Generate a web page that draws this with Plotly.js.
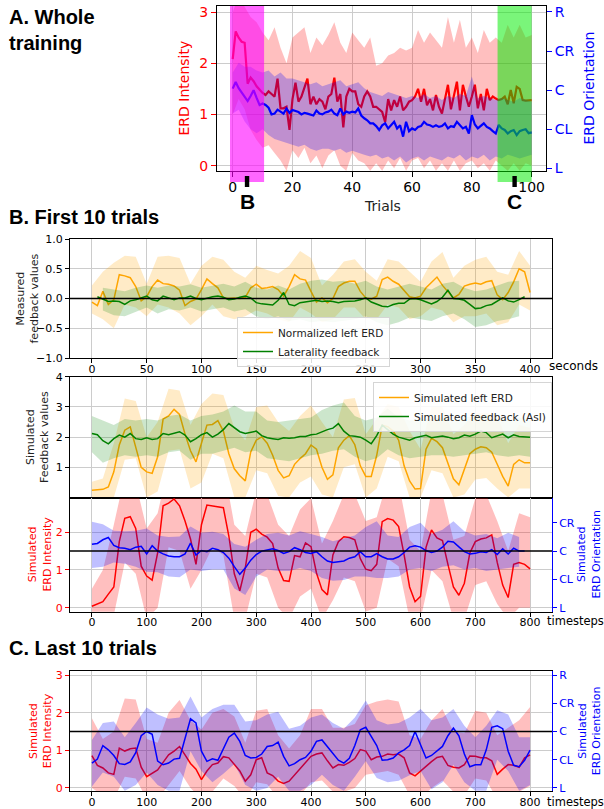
<!DOCTYPE html>
<html>
<head>
<meta charset="utf-8">
<script src="https://cdn.plot.ly/plotly-3.0.1.min.js"></script>
<style>html,body{margin:0;padding:0;background:#fff;}#chart{width:604px;height:809px;}</style>
</head>
<body>
<div id="chart"></div>
<script>
// ---------------- DATA ----------------
// Panel A: whole training (trials 0..100)
const trialsStep = 1, bandStepA = 2;
const redA = [2.08,2.62,2.50,2.42,2.40,1.60,1.72,1.65,1.55,1.48,
 1.42,1.38,1.45,1.40,1.35,1.70,1.12,1.12,1.15,0.70,
 1.30,1.62,1.25,1.35,1.55,1.70,1.20,1.35,1.20,1.30,
 1.25,1.10,1.35,1.40,1.72,1.25,1.40,0.75,1.35,1.50,
 1.45,1.45,1.20,1.15,1.35,1.45,1.35,1.15,1.15,1.10,
 1.05,0.85,1.30,1.08,1.28,1.15,1.35,1.08,1.15,1.25,
 1.28,1.35,1.50,1.25,1.50,1.18,1.30,1.08,1.38,1.15,
 1.02,1.30,1.58,1.10,1.35,1.64,1.08,1.58,1.35,1.15,
 1.35,1.58,1.12,1.40,1.08,1.50,1.28,1.35,1.31,1.28,
 1.30,1.35,1.20,1.48,1.22,1.54,1.50,1.28,1.27,1.28,
 1.28];
const blueA = [2.04,2.21,2.05,1.95,1.85,1.72,1.85,2.00,1.80,1.62,
 1.66,1.62,1.55,1.38,1.40,1.50,1.45,1.40,1.53,1.42,
 1.49,1.47,1.44,1.38,1.42,1.40,1.38,1.35,1.48,1.40,
 1.38,1.43,1.45,1.50,1.40,1.36,1.53,1.38,1.45,1.42,
 1.45,1.43,1.53,1.35,1.28,1.23,1.15,1.15,1.08,0.98,
 1.10,1.15,1.02,1.10,1.19,1.02,1.10,0.81,1.19,0.95,
 1.02,0.98,1.06,1.08,1.19,1.12,1.10,1.06,1.10,1.06,
 1.08,1.15,1.02,1.08,1.06,1.19,1.10,1.02,1.06,0.89,
 1.36,1.12,1.02,1.08,1.15,1.06,1.02,0.95,0.89,1.11,
 1.02,0.98,0.89,0.95,0.98,0.85,0.95,0.98,1.00,0.90,
 0.92];
const redUpA = [3.00,3.30,3.10,2.90,2.80,2.60,2.45,2.70,2.30,2.00,
 2.50,2.60,2.70,2.20,2.50,2.35,2.55,2.80,2.40,2.20,
 2.60,2.45,2.30,2.50,1.95,2.00,2.15,2.20,2.30,2.25,
 2.30,2.65,2.40,2.60,2.45,2.30,2.90,2.40,2.85,2.30,
 2.50,2.20,2.65,2.40,2.50,2.40,2.75,2.50,2.75,2.50,
 2.55];
const redLoA = [1.00,1.30,1.10,0.70,0.50,0.35,0.40,0.25,0.10,-0.10,
 0.30,0.15,0.35,0.05,0.20,-0.05,0.20,0.30,0.00,-0.10,
 0.25,0.10,0.05,-0.10,0.05,-0.10,0.10,-0.05,0.15,-0.10,
 0.10,0.15,-0.05,0.10,-0.10,0.05,-0.10,0.10,-0.10,0.05,
 0.10,-0.05,0.05,-0.10,0.10,0.00,-0.10,0.05,-0.10,0.05,
 0.00];
const blueUpA = [2.45,2.70,2.60,2.60,2.50,2.45,2.50,2.35,2.45,2.30,
 2.30,2.25,2.20,2.15,2.20,2.10,2.15,2.20,2.25,2.10,
 2.15,2.20,2.05,1.95,1.90,1.85,1.95,1.90,1.85,1.80,
 1.85,1.80,1.90,1.80,1.85,1.75,1.85,1.80,1.90,1.85,
 2.35,1.80,1.85,1.80,1.75,1.80,1.75,1.70,1.80,1.75,
 1.70];
const blueLoA = [1.40,1.50,1.20,1.00,0.90,1.00,0.85,0.75,0.70,0.65,
 0.60,0.55,0.60,0.50,0.45,0.50,0.50,0.45,0.50,0.40,
 0.45,0.40,0.35,0.30,0.35,0.25,0.30,0.20,0.30,0.15,
 0.25,0.30,0.20,0.30,0.25,0.20,0.30,0.25,0.35,0.20,
 0.30,0.25,0.35,0.20,0.30,0.25,0.35,0.30,0.25,0.30,
 0.35];
const spanFirst = [-0.9, 10.5];
const spanLast = [88.6, 100];
const markFirst = 4.8, markLast = 94.3;
const orientTicks = ['L','CL','C','CR','R'];

// Panel B top: measured (seconds 0..400, step 5; bands step 10)
const orangeTop = [-0.06,-0.12,0.12,-0.10,-0.02,0.40,0.38,0.35,0.20,-0.04,
 0.03,0.20,0.31,0.25,0.24,0.21,0.14,-0.12,-0.05,-0.01,
 0.15,0.33,0.25,0.18,0.01,0.00,0.01,0.00,0.02,0.18,
 0.24,0.17,0.18,0.20,0.15,0.04,0.20,0.40,0.33,0.31,
 0.12,-0.06,0.01,-0.07,0.00,0.20,0.26,0.29,0.29,0.12,
 0.01,-0.01,0.04,0.32,0.36,0.29,0.24,0.14,0.03,0.01,
 0.04,0.18,0.27,0.36,0.22,0.12,0.01,0.07,0.21,0.24,
 0.26,0.24,0.28,0.30,0.06,-0.02,0.10,0.28,0.50,0.45,
 0.10];
const greenTop = [null,0.03,-0.01,-0.05,-0.04,-0.05,-0.10,-0.04,-0.02,0.01,
 0.04,-0.02,-0.04,0.04,0.01,-0.02,0.01,0.01,0.04,0.00,
 -0.02,0.01,0.03,0.04,0.02,-0.02,-0.01,0.02,0.04,0.01,
 -0.07,-0.09,-0.10,-0.11,-0.03,0.10,-0.10,-0.12,-0.07,-0.06,
 -0.05,-0.03,-0.05,-0.04,-0.05,-0.07,-0.05,-0.05,-0.04,-0.02,
 0.01,-0.06,-0.10,-0.13,-0.14,-0.10,-0.08,-0.08,-0.01,0.00,
 -0.02,-0.05,-0.09,-0.05,0.02,0.14,0.00,-0.01,-0.03,-0.10,
 -0.17,-0.16,-0.12,-0.10,-0.04,0.01,-0.04,-0.06,-0.02,0.03,
 null];
const orangeTopUp = [0.22,0.45,0.60,0.72,0.70,0.25,0.70,0.72,0.68,0.25,
 0.55,0.70,0.65,0.45,0.35,0.55,0.48,0.42,0.55,0.80,
 0.68,0.22,0.40,0.62,0.66,0.45,0.30,0.66,0.62,0.45,
 0.28,0.62,0.78,0.35,0.55,0.65,0.70,0.45,0.40,0.80,
 0.55];
const orangeTopLo = [-0.25,-0.35,-0.50,-0.10,-0.15,-0.30,-0.10,-0.15,-0.25,-0.45,
 -0.30,-0.10,-0.30,-0.35,-0.30,-0.20,-0.25,-0.35,-0.40,-0.15,
 -0.25,-0.40,-0.35,-0.15,-0.15,-0.35,-0.35,-0.10,-0.15,-0.35,
 -0.30,-0.15,-0.20,-0.40,-0.30,-0.30,-0.25,-0.45,-0.40,-0.10,
 -0.20];
const greenTopUp = [0.18,0.15,0.12,0.18,0.22,0.18,0.22,0.20,0.24,0.18,
 0.22,0.25,0.20,0.28,0.18,0.15,0.22,0.15,0.25,0.30,
 0.32,0.28,0.30,0.25,0.30,0.20,0.15,0.20,0.25,0.20,
 0.15,0.25,0.28,0.18,0.12,0.15,0.22,0.28,0.30];
const greenTopLo = [-0.20,-0.28,-0.30,-0.22,-0.15,-0.25,-0.18,-0.20,-0.15,-0.22,
 -0.18,-0.15,-0.22,-0.18,-0.30,-0.35,-0.30,-0.38,-0.35,-0.40,
 -0.38,-0.40,-0.38,-0.35,-0.30,-0.40,-0.45,-0.40,-0.32,-0.35,
 -0.38,-0.30,-0.25,-0.35,-0.48,-0.45,-0.38,-0.35,-0.30];

// Panel B middle: simulated feedback (seconds 0..400)
const orangeMid = [0.24,0.25,0.27,0.35,0.85,1.74,2.23,2.34,1.70,1.00,
 0.85,0.80,1.35,2.60,2.70,2.92,2.75,2.10,1.55,1.18,
 1.80,2.40,2.42,2.55,2.20,1.45,0.95,0.72,0.55,1.51,
 1.90,2.01,1.80,1.40,0.90,0.65,0.72,1.10,1.29,1.45,
 1.74,1.60,1.00,0.60,0.75,1.65,1.90,2.05,1.75,1.05,
 0.70,0.70,1.40,2.40,2.35,2.20,1.90,1.05,0.55,0.28,
 0.30,1.60,1.96,1.85,1.65,1.15,0.62,0.42,0.90,1.45,
 1.60,1.68,1.65,1.50,1.10,0.70,0.38,1.10,1.25,1.15,
 1.15];
const greenMid = [2.12,2.08,1.88,1.78,1.95,2.07,2.00,2.12,1.95,1.92,
 1.98,1.92,1.95,2.12,2.08,2.12,2.18,2.07,1.85,1.95,
 2.08,2.15,2.00,2.10,2.25,2.45,2.30,2.18,2.12,2.15,
 2.20,2.05,1.98,1.95,1.92,1.98,1.96,1.98,2.02,2.02,
 2.08,2.10,2.18,2.25,2.30,2.45,2.20,2.05,2.03,2.00,
 1.90,1.78,2.05,2.40,2.25,2.10,2.00,1.95,1.90,1.98,
 2.03,2.06,1.98,2.00,2.04,2.00,1.95,1.98,2.07,2.03,
 2.10,2.20,2.15,1.98,2.05,2.10,1.98,2.08,2.02,2.02,
 2.00];
const orangeMidUp = [0.52,0.63,1.80,3.28,3.20,2.00,2.50,3.60,3.55,2.40,
 3.10,3.45,3.40,2.30,1.90,3.00,3.05,2.50,2.20,2.70,
 3.05,2.50,2.00,3.25,3.30,2.10,2.60,3.10,3.00,2.20,
 1.60,3.00,3.00,2.10,2.40,2.80,2.80,2.70,1.80,2.40,
 2.30];
const orangeMidLo = [0.00,0.00,0.00,1.25,1.30,0.00,0.20,1.55,1.60,0.30,
 0.50,1.45,1.30,0.00,0.00,0.90,0.80,0.05,0.00,0.50,
 0.70,0.10,0.00,1.00,1.10,0.00,0.30,1.35,1.20,0.00,
 0.00,0.90,0.80,0.00,0.10,0.60,0.65,0.30,0.00,0.30,
 0.30];
const greenMidUp = [2.70,2.55,2.40,2.60,2.55,2.60,2.55,2.70,2.75,2.55,
 2.70,2.75,2.85,3.05,2.85,2.85,2.55,2.50,2.55,2.60,
 2.65,2.90,3.05,3.15,2.70,2.55,2.65,2.95,2.65,2.55,
 2.60,2.60,2.65,2.55,2.65,2.70,2.75,2.60,2.55,2.65,
 2.55];
const greenMidLo = [1.50,1.15,1.30,1.40,1.35,1.40,1.35,1.50,1.55,1.25,
 1.45,1.45,1.55,1.65,1.50,1.55,1.30,1.25,1.20,1.30,
 1.40,1.45,1.55,1.60,1.35,1.20,1.30,1.60,1.40,1.30,
 1.35,1.40,1.40,1.35,1.40,1.45,1.50,1.40,1.35,1.40,
 1.35];

// Panel B bottom: simulated ERD (timesteps 0..800, step 10; bands step 20)
const redBot = [0.04,0.09,0.16,0.36,0.55,1.75,2.37,2.41,2.10,1.10,
 0.84,0.73,1.45,2.70,2.77,2.88,2.70,2.30,1.82,1.15,
 2.20,2.72,2.70,2.68,2.65,1.90,0.90,0.45,1.05,2.00,
 2.08,1.95,1.87,1.70,1.05,0.72,0.70,1.38,1.35,1.72,
 1.62,0.92,0.48,0.34,1.40,1.75,1.88,1.86,1.80,1.30,
 1.02,0.98,1.15,2.28,2.36,2.32,2.15,1.40,0.55,0.16,
 0.30,1.60,2.06,1.85,1.78,1.15,0.55,0.33,0.65,1.45,
 1.75,1.82,1.85,1.93,1.20,0.60,0.27,1.15,1.20,1.15,
 1.03];
const blueBot = [2.24,2.27,2.40,2.48,2.20,2.12,2.10,2.05,2.14,2.17,
 1.90,2.19,2.00,1.90,1.83,1.80,1.80,1.90,2.28,1.86,
 2.02,1.98,2.10,2.05,1.95,1.75,1.45,1.18,1.40,1.68,
 1.88,2.00,2.04,2.08,2.02,1.92,1.98,2.12,2.05,1.95,
 1.92,1.98,1.80,1.65,1.60,1.63,1.65,1.75,1.80,1.98,
 1.80,1.80,1.91,1.80,1.72,1.72,1.80,1.95,2.14,2.19,
 2.14,2.02,1.95,2.00,2.14,2.35,2.32,2.15,1.98,1.90,
 1.92,1.98,1.95,2.05,1.88,2.08,1.90,2.10,2.00,2.00,
 null];
const redBotUp = [0.50,1.00,2.20,3.50,3.30,2.10,2.50,3.80,3.80,3.00,
 3.20,3.80,3.80,2.20,1.90,3.10,3.00,2.20,1.90,2.60,
 2.90,1.70,2.30,3.00,3.00,2.30,2.40,3.40,3.30,1.80,
 1.50,3.10,3.00,1.80,1.90,2.90,3.00,2.30,1.50,2.50,
 2.40];
const redBotLo = [-0.30,-0.30,-0.20,1.20,0.90,-0.30,0.00,1.60,1.50,0.50,
 1.00,1.60,1.40,-0.30,-0.30,0.90,0.80,0.00,-0.30,0.30,
 0.50,-0.30,0.20,0.80,0.70,-0.10,0.00,1.30,1.10,-0.30,
 -0.30,1.00,0.70,-0.30,-0.30,0.60,0.70,0.10,-0.30,0.00,
 0.00];
const blueBotUp = [3.04,2.95,2.72,2.70,2.72,2.80,2.55,2.50,2.52,2.87,
 2.65,2.68,2.60,2.25,2.15,2.40,2.60,2.65,2.55,2.70,
 2.60,2.50,2.35,2.45,2.55,2.85,3.05,2.55,2.50,2.85,
 3.00,2.60,2.75,3.05,2.70,2.55,2.60,2.45,2.65,2.50];
const blueBotLo = [1.40,1.45,1.60,1.55,1.45,1.27,1.25,1.10,1.08,1.35,
 1.30,1.35,1.35,0.68,0.45,1.10,1.35,1.30,1.30,1.40,
 1.30,1.05,0.95,0.98,1.10,1.10,1.05,1.05,1.10,1.35,
 1.40,1.30,1.45,1.50,1.35,1.40,1.30,1.35,1.40,1.45];

// Panel C: last 10 trials (timesteps 0..800)
const redC = [0.86,0.60,0.53,0.40,0.36,1.06,0.98,1.04,1.06,0.55,
 0.30,0.40,0.48,0.68,0.88,0.98,1.10,0.88,0.65,0.50,
 0.22,0.45,0.62,0.66,0.83,0.80,0.62,0.45,0.18,0.35,
 0.75,0.80,0.40,0.33,0.18,0.12,0.18,0.35,0.50,0.70,
 0.84,0.90,0.93,0.72,0.53,0.62,0.60,0.68,0.78,1.02,
 0.98,0.75,0.82,0.84,0.90,0.88,0.90,0.80,0.40,0.32,
 0.45,0.58,0.70,0.81,0.84,0.60,0.55,0.53,0.62,0.85,
 0.84,0.80,0.80,0.72,0.36,0.50,0.62,0.60,0.55,0.80,
 0.88];
const blueC = [0.88,1.02,1.50,1.35,1.15,0.86,0.83,0.92,1.25,1.85,
 2.00,1.90,0.95,0.82,0.88,1.02,1.05,1.80,2.45,2.30,
 1.30,0.94,1.03,0.98,1.40,1.80,1.94,1.65,1.15,1.06,
 1.08,1.20,1.47,1.50,1.62,1.12,0.78,0.86,1.00,1.08,
 1.30,1.65,1.70,1.45,1.24,0.98,0.88,1.05,1.50,2.06,
 2.15,1.80,1.50,0.98,1.00,1.06,1.24,1.35,1.50,2.00,
 1.50,1.06,1.15,1.30,1.47,1.85,2.12,1.85,1.20,0.75,
 0.82,0.82,1.35,2.15,2.20,2.10,1.30,0.80,0.75,0.98,
 1.34];
const redCUp = [1.85,1.30,1.50,2.38,2.35,1.30,1.20,2.00,2.34,1.80,
 1.55,2.00,2.10,1.90,1.20,2.05,2.10,1.40,1.05,1.40,
 2.10,2.10,1.60,1.60,1.70,2.20,2.30,2.35,2.30,1.40,
 1.30,1.80,2.10,1.50,1.45,2.05,2.00,1.40,1.60,1.80,
 2.15];
const redCLo = [0.00,-0.20,-0.30,0.30,0.25,-0.30,-0.30,0.10,0.45,0.00,
 -0.30,-0.10,0.25,0.05,-0.30,0.15,0.10,-0.30,-0.30,-0.20,
 0.15,0.20,-0.10,-0.10,0.00,0.35,0.40,0.45,0.35,-0.20,
 -0.30,0.00,0.20,-0.10,-0.20,0.25,0.20,-0.30,-0.10,-0.10,
 0.05];
const blueCUp = [1.70,2.30,2.35,1.80,2.30,2.85,2.60,2.45,2.50,3.24,
 2.50,2.80,2.95,2.95,2.35,2.40,2.60,2.70,2.10,2.20,
 2.50,2.60,2.30,2.10,2.50,3.10,2.40,2.25,2.30,2.50,
 2.80,2.40,2.50,2.80,2.20,1.80,2.20,2.75,2.60,1.80,
 1.80];
const blueCLo = [0.05,0.55,0.40,-0.10,0.10,0.55,0.10,-0.10,-0.10,1.30,
 0.60,0.20,0.50,0.85,0.10,-0.10,0.00,0.40,-0.10,-0.10,
 0.10,0.47,0.10,-0.10,0.40,0.95,0.35,0.20,0.25,0.45,
 0.60,-0.05,0.20,0.82,0.20,-0.10,-0.10,1.00,0.60,-0.10,
 0.10];
const zeroLevel = 0, centerLevel = 1.5;

// ---------------- HELPERS ----------------
function seq(start, step, n){ const a=[]; for(let i=0;i<n;i++) a.push(start+i*step); return a; }
const W = 604, H = 809;
const PX = x => x / W, PY = y => 1 - y / H;
const FONT = 'DejaVu Sans, Verdana, sans-serif';
const TFONT = 'Liberation Sans, Arial, sans-serif';
const RED = '#ff0000', BLUE = '#0000ff', ORANGE = '#ffa500', GREEN = '#008000';

function line(x, y, xa, ya, color, width, name, legend){
  const t = {x, y, xaxis:xa, yaxis:ya, mode:'lines', line:{color, width}, hoverinfo:'skip', showlegend:false};
  if (name){ t.name = name; t.showlegend = true; t.legend = legend; }
  return t;
}
function band(x, lo, hi, xa, ya, fill){
  return {x: x.concat(x.slice().reverse()), y: hi.concat(lo.slice().reverse()),
    xaxis:xa, yaxis:ya, mode:'lines', fill:'toself', fillcolor:fill, line:{width:0, color:fill},
    hoverinfo:'skip', showlegend:false};
}

const xTrials = seq(0, trialsStep, redA.length);
const xTrialsBand = seq(0, bandStepA, redUpA.length);
const xSec = seq(0, 5, orangeTop.length);
const xSecBand = seq(0, 10, orangeTopUp.length);
const xSecBandG = seq(10, 10, greenTopUp.length);
const xTs = seq(0, 10, redBot.length);
const xTsBand = seq(0, 20, redBotUp.length);
const xTsBandB = seq(0, 20, blueBotUp.length);

const FR = 'rgba(255,0,0,0.25)', FB = 'rgba(0,0,255,0.25)';
const FO = 'rgba(255,165,0,0.22)', FG = 'rgba(0,128,0,0.2)';

const data = [
  // A
  band(xTrialsBand, redLoA, redUpA, 'x', 'y', FR),
  line(xTrials, redA, 'x', 'y', RED, 2.2),
  band(xTrialsBand, blueLoA, blueUpA, 'x', 'y2', FB),
  line(xTrials, blueA, 'x', 'y2', BLUE, 2.2),
  // B top
  band(xSecBand, orangeTopLo, orangeTopUp, 'x2', 'y3', FO),
  line(xSec, orangeTop, 'x2', 'y3', ORANGE, 1.5, 'Normalized left ERD', 'legend'),
  band(xSecBandG, greenTopLo, greenTopUp, 'x2', 'y3', FG),
  line(xSec, greenTop, 'x2', 'y3', GREEN, 1.5, 'Laterality feedback', 'legend'),
  // B middle
  band(xSecBand, orangeMidLo, orangeMidUp, 'x3', 'y4', FO),
  line(xSec, orangeMid, 'x3', 'y4', ORANGE, 1.5, 'Simulated left ERD', 'legend2'),
  band(xSecBand, greenMidLo, greenMidUp, 'x3', 'y4', FG),
  line(xSec, greenMid, 'x3', 'y4', GREEN, 1.5, 'Simulated feedback (AsI)', 'legend2'),
  // B bottom
  band(xTsBand, redBotLo, redBotUp, 'x4', 'y5', FR),
  line(xTs, redBot, 'x4', 'y5', RED, 1.5),
  band(xTsBandB, blueBotLo, blueBotUp, 'x4', 'y6', FB),
  line(xTs, blueBot, 'x4', 'y6', BLUE, 1.5),
  // C
  band(xTsBand, redCLo, redCUp, 'x5', 'y7', FR),
  line(xTs, redC, 'x5', 'y7', RED, 1.5),
  band(xTsBand, blueCLo, blueCUp, 'x5', 'y8', FB),
  line(xTs, blueC, 'x5', 'y8', BLUE, 1.5)
];

// ---------------- AXES ----------------
function ax(extra){
  return Object.assign({showline:true, linecolor:'#000', linewidth:1, mirror:true, ticks:'outside', ticklen:4,
    tickwidth:1, tickcolor:'#000', showgrid:true, gridcolor:'#cccccc', gridwidth:1, zeroline:false,
    tickfont:{family:FONT, size:11, color:'#000'}, fixedrange:true, automargin:false}, extra);
}
const domB = [PX(70), PX(552)];
const secTicks = seq(0, 50, 9), tsTicks = seq(0, 100, 9);

const layout = {
  width:W, height:H, margin:{l:0,r:0,t:0,b:0}, paper_bgcolor:'#fff', plot_bgcolor:'#fff',
  showlegend:true,
  xaxis: ax({domain:[PX(217), PX(546)], range:[-5.25,104.8], anchor:'y', tickvals:seq(0,20,6),
    tickfont:{family:FONT,size:14,color:'#000'}, ticklen:5, ticklabelstandoff:-2}),
  yaxis: ax({domain:[PY(171), PY(6)], range:[-0.103,3.117], anchor:'x', tickvals:[0,1,2,3],
    tickfont:{family:FONT,size:14,color:RED}, tickcolor:RED, ticklen:5}),
  yaxis2: ax({overlaying:'y', side:'right', anchor:'x', range:[-0.069,4.153], tickvals:[0,1,2,3,4], ticktext:orientTicks,
    tickfont:{family:FONT,size:14,color:BLUE}, tickcolor:BLUE, showgrid:false, showline:false, mirror:false, ticklen:5}),

  xaxis2: ax({domain:domB, range:[-20,420], anchor:'y3', tickvals:secTicks, ticklabelstandoff:-3}),
  yaxis3: ax({domain:[PY(358), PY(239)], range:[-1,1], anchor:'x2', tickvals:[-1,-0.5,0,0.5,1],
    ticktext:['\u22121.0','\u22120.5','0.0','0.5','1.0']}),

  xaxis3: ax({domain:domB, range:[-20,420], anchor:'y4', tickvals:secTicks, showticklabels:false, ticks:''}),
  yaxis4: ax({domain:[PY(497.5), PY(376.5)], range:[0,4.01], anchor:'x3', tickvals:[1,2,3,4]}),

  xaxis4: ax({domain:domB, range:[-40,840], anchor:'y5', tickvals:tsTicks, ticklabelstandoff:-4}),
  yaxis5: ax({domain:[PY(611.7), PY(497.5)], range:[-0.105,2.92], anchor:'x4', tickvals:[0,1,2],
    tickfont:{family:FONT,size:11,color:RED}, tickcolor:RED, mirror:false}),
  yaxis6: ax({overlaying:'y5', side:'right', anchor:'x4', range:[-0.14,3.893], tickvals:[0,1,2,3], ticktext:orientTicks.slice(0,4),
    tickfont:{family:FONT,size:11,color:BLUE}, tickcolor:BLUE, linecolor:BLUE, showgrid:false, mirror:false}),

  xaxis5: ax({domain:domB, range:[-40,840], anchor:'y7', tickvals:tsTicks, ticklabelstandoff:-4}),
  yaxis7: ax({domain:[PY(791.3), PY(671.3)], range:[-0.09,3.1], anchor:'x5', tickvals:[0,1,2,3],
    tickfont:{family:FONT,size:11,color:RED}, tickcolor:RED, mirror:false}),
  yaxis8: ax({overlaying:'y7', side:'right', anchor:'x5', range:[-0.12,4.133], tickvals:[0,1,2,3,4], ticktext:orientTicks,
    tickfont:{family:FONT,size:11,color:BLUE}, tickcolor:BLUE, linecolor:BLUE, showgrid:false, mirror:false}),

  legend: {x:PX(237), y:PY(317), xanchor:'left', yanchor:'top', bgcolor:'rgba(255,255,255,0.85)',
    bordercolor:'#d5d5d5', borderwidth:1, font:{family:FONT,size:10.5,color:'#222'}, tracegroupgap:0, itemwidth:30},
  legend2: {x:PX(373), y:PY(382), xanchor:'left', yanchor:'top', bgcolor:'rgba(255,255,255,0.85)',
    bordercolor:'#d5d5d5', borderwidth:1, font:{family:FONT,size:10.5,color:'#222'}, tracegroupgap:0, itemwidth:30},

  shapes: [
    {type:'rect', xref:'x', yref:'paper', x0:spanFirst[0], x1:spanFirst[1], y0:PY(182), y1:PY(6),
      fillcolor:'rgba(255,0,255,0.6)', line:{width:0}, layer:'above'},
    {type:'rect', xref:'x', yref:'paper', x0:spanLast[0], x1:spanLast[1], y0:PY(182), y1:PY(6),
      fillcolor:'rgba(0,235,0,0.52)', line:{width:0}, layer:'above'},
    {type:'rect', xref:'x', yref:'paper', xsizemode:'pixel', xanchor:markFirst, x0:-2.2, x1:2.2, y0:PY(187), y1:PY(176),
      fillcolor:'#000', line:{width:0}, layer:'above'},
    {type:'rect', xref:'x', yref:'paper', xsizemode:'pixel', xanchor:markLast, x0:-2.2, x1:2.2, y0:PY(187), y1:PY(176),
      fillcolor:'#000', line:{width:0}, layer:'above'},
    {type:'line', xref:'x2 domain', yref:'y3', x0:0, x1:1, y0:zeroLevel, y1:zeroLevel, line:{color:'#000', width:1.5}, layer:'above'},
    {type:'line', xref:'x4 domain', yref:'y5', x0:0, x1:1, y0:centerLevel, y1:centerLevel, line:{color:'#000', width:1.5}, layer:'above'},
    {type:'line', xref:'x5 domain', yref:'y7', x0:0, x1:1, y0:centerLevel, y1:centerLevel, line:{color:'#000', width:1.5}, layer:'above'}
  ],
  annotations: []
};

function ann(text, x, y, o){
  layout.annotations.push(Object.assign({text, x:PX(x), y:PY(y), xref:'paper', yref:'paper', showarrow:false,
    xanchor:'center', yanchor:'middle', font:{family:FONT, size:12, color:'#000'}}, o||{}));
}
ann('<b>A. Whole<br>training</b>', 7, 4, {xanchor:'left', yanchor:'top', align:'left', font:{family:TFONT,size:20,color:'#000'}});
ann('<b>B. First 10 trials</b>', 7, 217, {xanchor:'left', font:{family:TFONT,size:20,color:'#000'}});
ann('<b>C. Last 10 trials</b>', 7, 648, {xanchor:'left', font:{family:TFONT,size:20,color:'#000'}});
ann('ERD Intensity', 183, 88.5, {textangle:-90, font:{family:FONT,size:14,color:RED}});
ann('ERD Orientation', 588, 88.5, {textangle:-90, font:{family:FONT,size:14,color:BLUE}});
ann('Trials', 382, 206, {font:{family:FONT,size:14,color:'#222'}});
ann('<b>B</b>', 247, 202, {font:{family:TFONT,size:21,color:'#000'}});
ann('<b>C</b>', 514.5, 202, {font:{family:TFONT,size:21,color:'#000'}});
ann('seconds', 547, 366, {xanchor:'left', font:{family:FONT,size:12,color:'#000'}});
ann('timesteps', 545, 621, {xanchor:'left', font:{family:FONT,size:11.5,color:'#000'}});
ann('timesteps', 545, 802, {xanchor:'left', font:{family:FONT,size:11.5,color:'#000'}});
ann('Measured<br>feedback values', 27, 298.5, {textangle:-90, font:{family:FONT,size:11,color:'#222'}});
ann('Simulated<br>Feedback values', 37, 437, {textangle:-90, font:{family:FONT,size:11,color:'#222'}});
ann('Simulated<br>ERD Intensity', 40, 554.6, {textangle:-90, font:{family:FONT,size:11,color:RED}});
ann('Simulated<br>ERD Orientation', 589, 554.6, {textangle:-90, font:{family:FONT,size:11,color:BLUE}});
ann('Simulated<br>ERD Intensity', 40, 731.3, {textangle:-90, font:{family:FONT,size:11,color:RED}});
ann('Simulated<br>ERD Orientation', 589, 731.3, {textangle:-90, font:{family:FONT,size:11,color:BLUE}});

Plotly.newPlot('chart', data, layout, {staticPlot:true, displayModeBar:false});
</script>
</body>
</html>
